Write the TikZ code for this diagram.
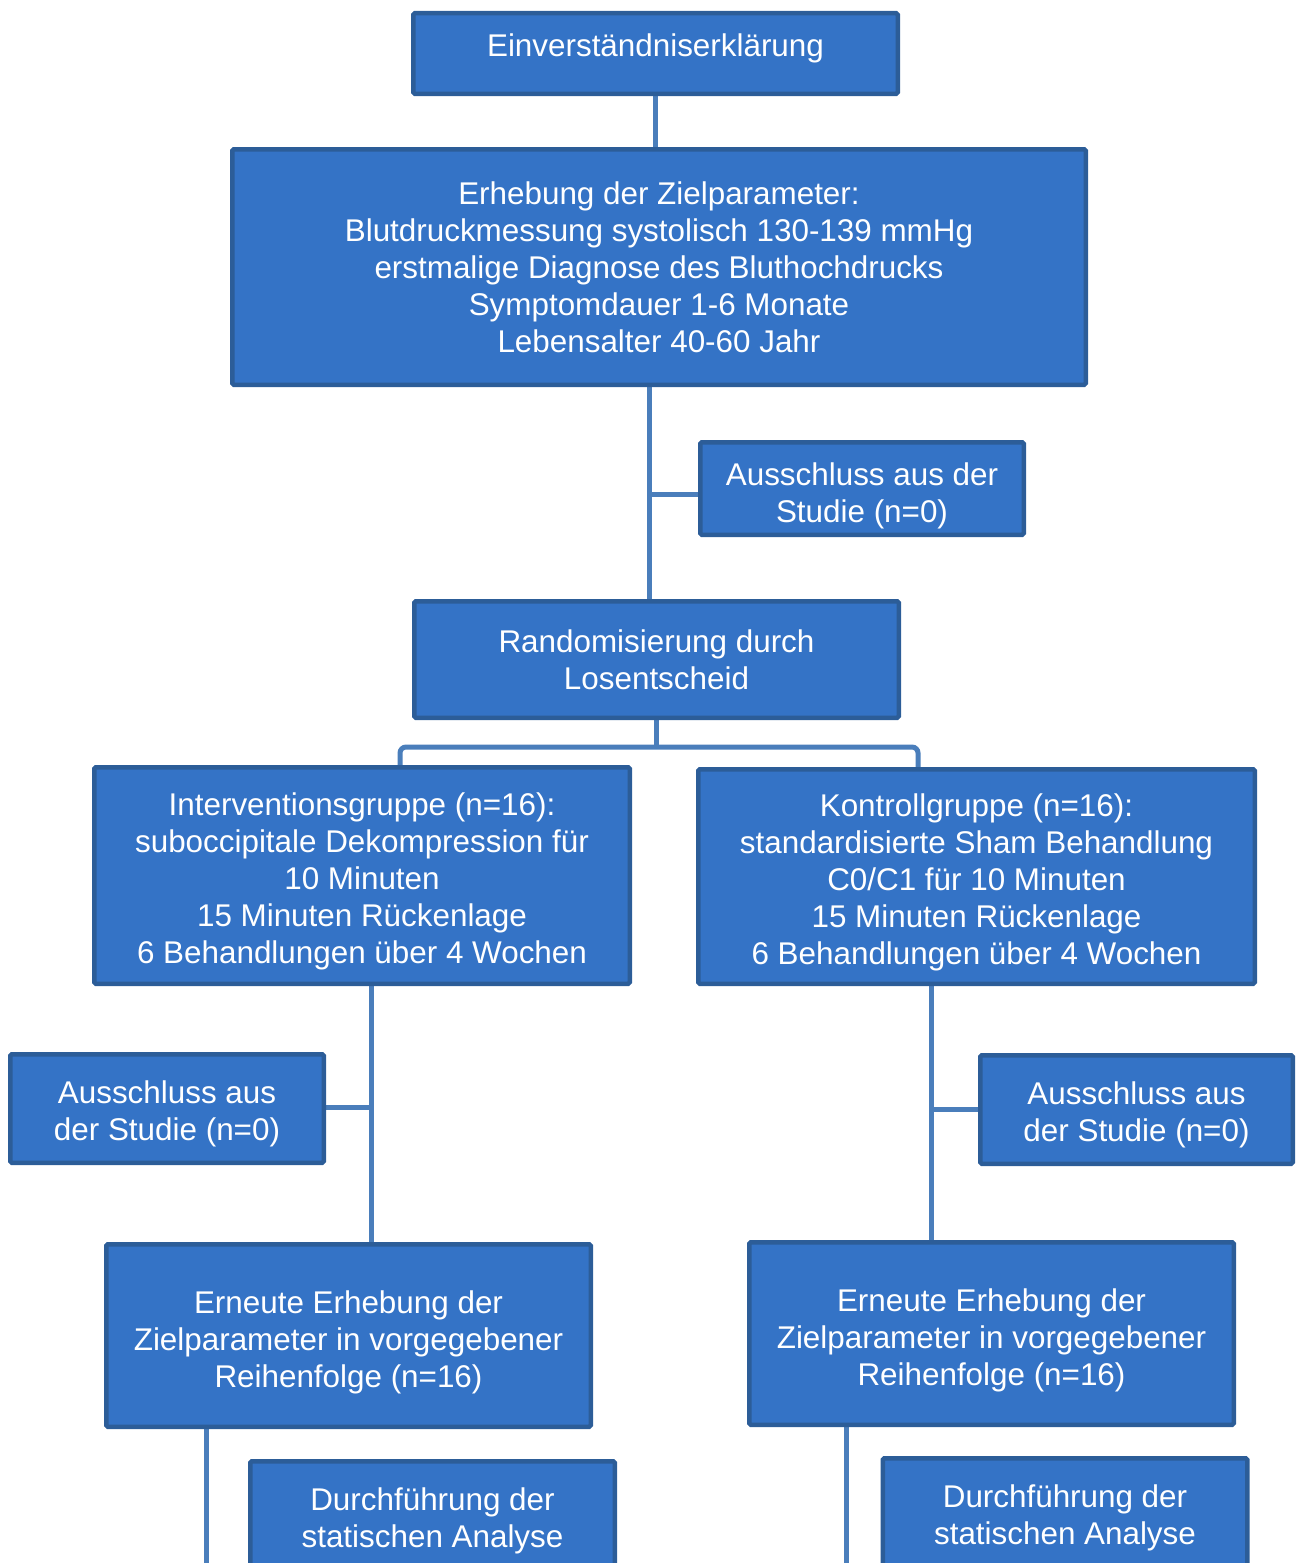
\documentclass[tikz,border=0pt]{standalone}
\usepackage{fontspec}
\setmainfont{Liberation Sans}
\usetikzlibrary{backgrounds}

\definecolor{boxfill}{HTML}{3473C6}
\definecolor{boxline}{HTML}{2C5D98}
\definecolor{conline}{HTML}{4A7EBB}

\begin{document}
\begin{tikzpicture}[x=1pt,y=-1pt]

      \clip (0,0) rectangle (1296,1563);

      \begin{scope}[every node/.style={rectangle, draw=boxline, fill=boxfill, line width=4.5pt,
          rounded corners=1.5pt, text=white, align=center, inner sep=0pt, text depth=0pt,
          font=\fontsize{31.4}{37}\selectfont}]
        \node[minimum width=484.5, minimum height=80.5, text depth=17pt] (einv) at (655.5,53.5) {Einverständniserklärung};
        \node[minimum width=853.5, minimum height=235.5] (erheb) at (659,267) {Erhebung der Zielparameter:\\Blutdruckmessung systolisch 130-139 mmHg\\erstmalige Diagnose des Bluthochdrucks\\Symptomdauer 1-6 Monate\\Lebensalter 40-60 Jahr};
        \node[minimum width=323.5, minimum height=92.5, text height=67pt] (aus1) at (862,488.5) {Ausschluss aus der\\Studie (n=0)};
        \node[minimum width=484.5, minimum height=116.5] (rand) at (656.5,659.5) {Randomisierung durch\\Losentscheid};
        \node[minimum width=535.5, minimum height=216.5, text height=175pt] (grI) at (362,875.5) {Interventionsgruppe (n=16):\\suboccipitale Dekompression für\\10 Minuten\\15 Minuten Rückenlage\\6 Behandlungen über 4 Wochen};
        \node[minimum width=556.5, minimum height=214.5, text height=175pt] (grK) at (976.5,876.5) {Kontrollgruppe (n=16):\\standardisierte Sham Behandlung\\C0/C1 für 10 Minuten\\15 Minuten Rückenlage\\6 Behandlungen über 4 Wochen};
        \node[minimum width=313.5, minimum height=108.5, text height=63pt] (ausI) at (167,1108.5) {Ausschluss aus\\der Studie (n=0)};
        \node[minimum width=312.5, minimum height=108.5, text height=64pt] (ausK) at (1136.5,1109.5) {Ausschluss aus\\der Studie (n=0)};
        \node[minimum width=484.5, minimum height=182.5, text height=103pt] (ernI) at (348.5,1335.5) {Erneute Erhebung der\\Zielparameter in vorgegebener\\Reihenfolge (n=16)};
        \node[minimum width=484.5, minimum height=182.5, text height=103pt] (ernK) at (991.5,1333.5) {Erneute Erhebung der\\Zielparameter in vorgegebener\\Reihenfolge (n=16)};
        \node[minimum width=364.5, minimum height=108.5, text height=63pt] (anaI) at (432.5,1515.5) {Durchführung der\\statischen Analyse};
        \node[minimum width=364.5, minimum height=108.5, text height=64pt] (anaK) at (1065,1512.5) {Durchführung der\\statischen Analyse};
      \end{scope}

      % junctions
      \coordinate (j1) at (649,494);
      \coordinate (bl) at (400,747);
      \coordinate (br) at (918,747);
      \coordinate (kl) at (371,1107);
      \coordinate (kr) at (931,1109);
      \coordinate (ml) at (206,1563);
      \coordinate (mr) at (846,1563);

      \begin{pgfonlayer}{background}
        \begin{scope}[every path/.style={draw=conline, line width=5pt}]
          \path (einv.south) -- (einv.south |- erheb.north);
          \path (erheb.south -| j1) -- (rand.north -| j1);
          \path (j1) -- (j1 -| aus1.west);
          \path (rand.south) -- (rand.south |- bl);
          \path[rounded corners=6pt] (bl |- grI.north) -- (bl) -- (br) -- (br |- grK.north);
          \path (grI.south -| kl) -- (ernI.north -| kl);
          \path (kl) -- (kl -| ausI.east);
          \path (grK.south -| kr) -- (ernK.north -| kr);
          \path (kr) -- (kr -| ausK.west);
          \path (ernI.south -| ml) -- (ml);
          \path (ernK.south -| mr) -- (mr);
        \end{scope}
      \end{pgfonlayer}

    \end{tikzpicture}
\end{document}
